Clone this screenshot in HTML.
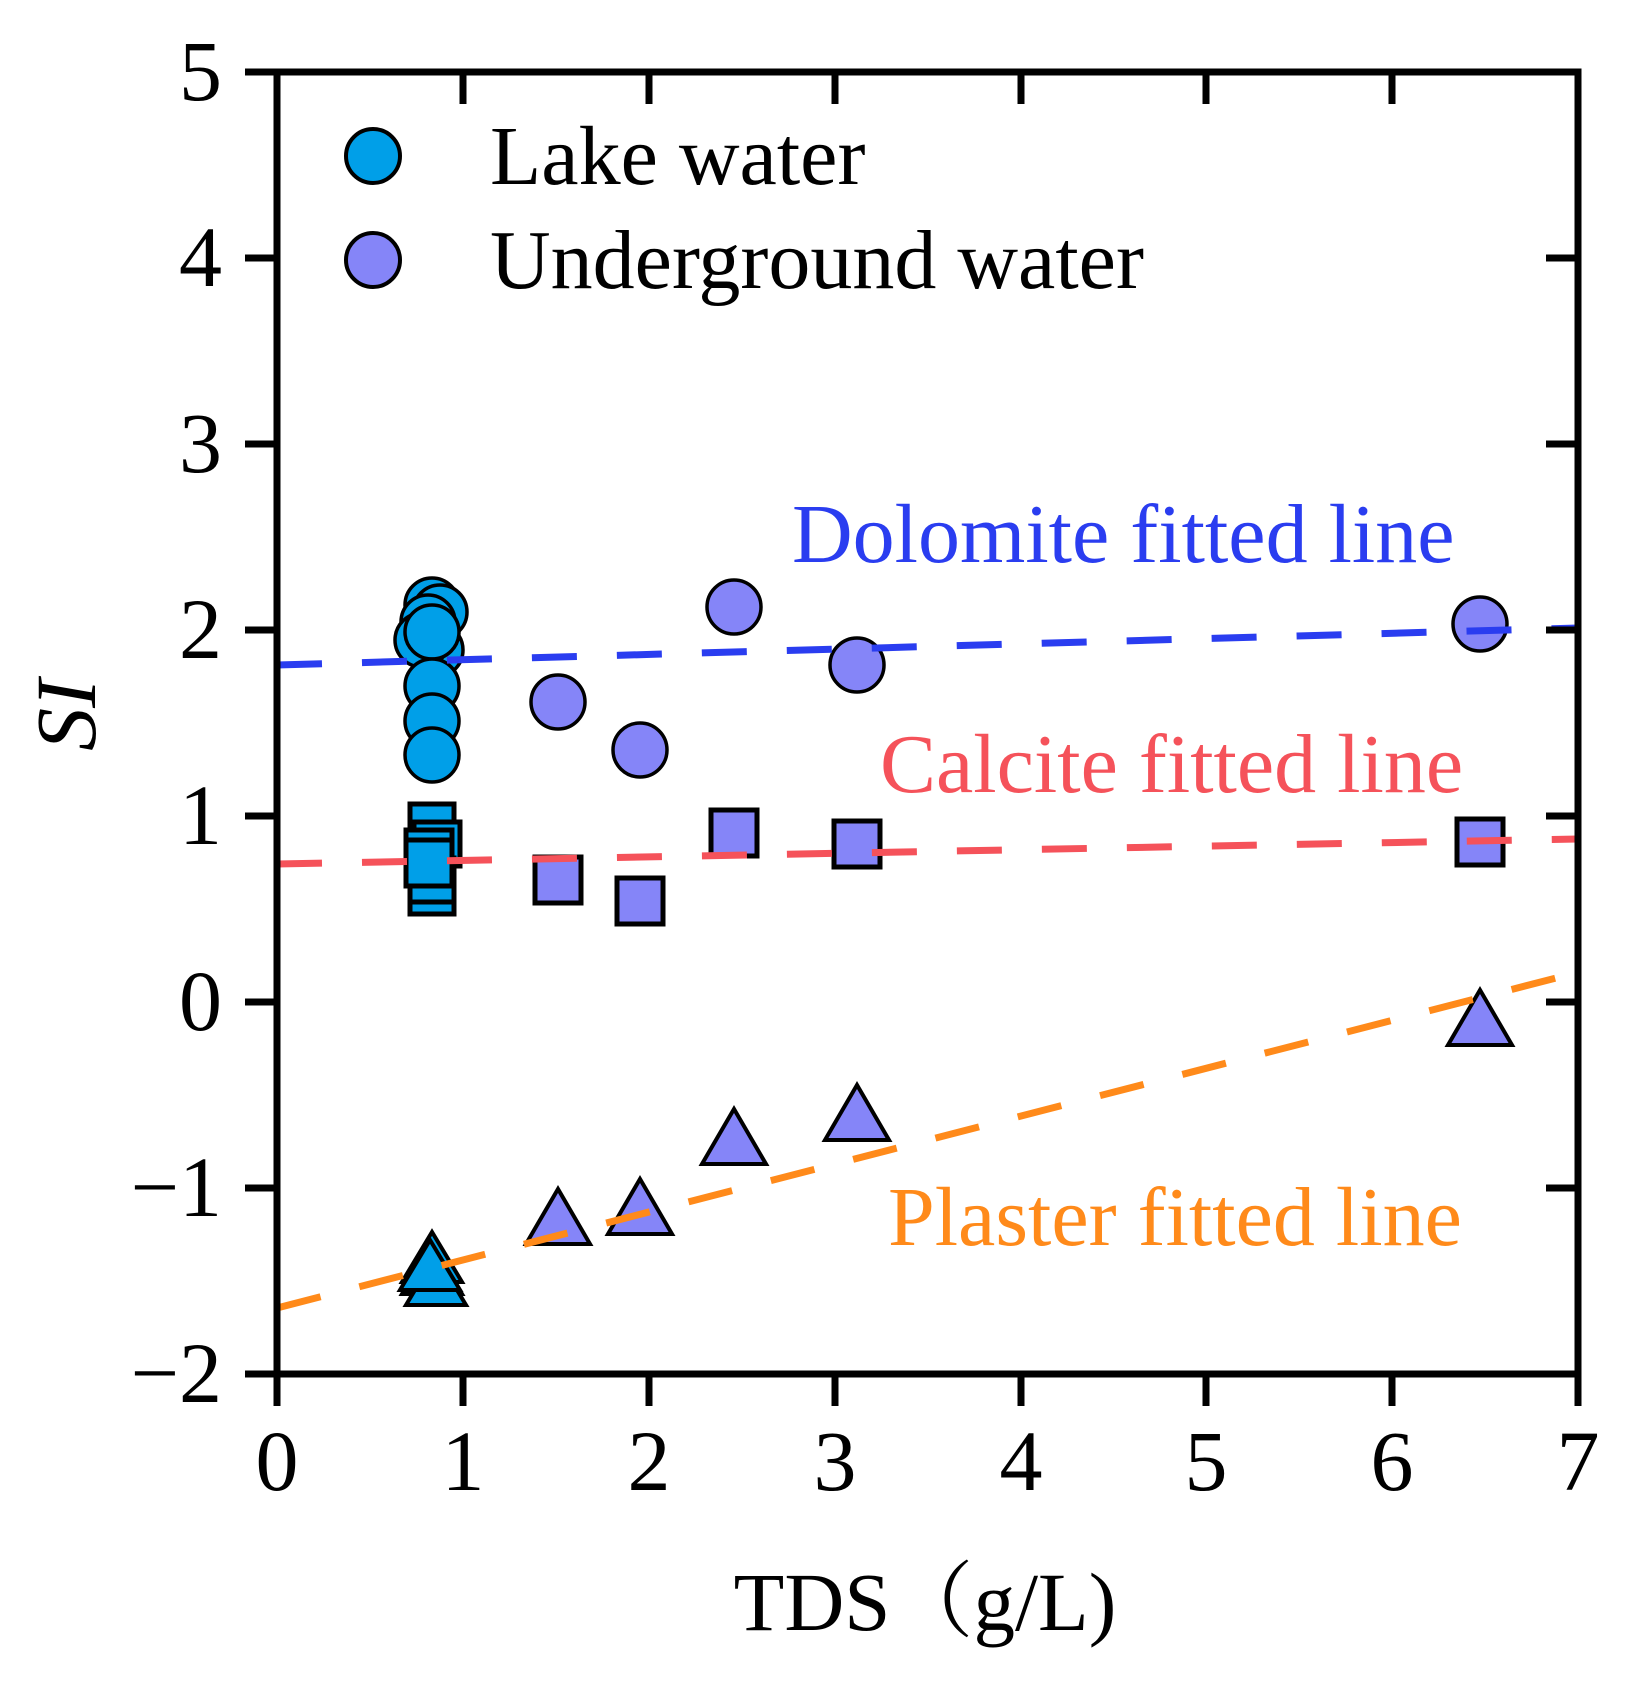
<!DOCTYPE html>
<html><head><style>body{margin:0;background:#fff}svg{display:block}</style></head><body>
<svg width="1637" height="1688" viewBox="0 0 1637 1688" xmlns="http://www.w3.org/2000/svg" font-family="Liberation Serif, serif">
<g stroke="#000" stroke-width="3.5">
<g fill="#009fe8">
<circle cx="432" cy="605" r="27"/><circle cx="440" cy="612" r="27"/><circle cx="428" cy="622" r="27"/>
<circle cx="436" cy="650" r="27"/><circle cx="422" cy="640" r="27"/><circle cx="432" cy="632" r="27"/>
<circle cx="432" cy="686" r="27"/><circle cx="432" cy="721" r="27"/><circle cx="432" cy="755" r="27"/>
</g>
<g fill="#8585f8">
<circle cx="558" cy="702" r="27"/><circle cx="640" cy="750" r="27"/><circle cx="734" cy="607" r="27"/><circle cx="857" cy="665" r="27"/><circle cx="1480" cy="624" r="27"/>
</g>
<g fill="#009fe8" stroke-width="5">
<rect x="410" y="804" width="44" height="44"/><rect x="414" y="822" width="46" height="44"/><rect x="406" y="830" width="46" height="44"/>
<rect x="410" y="870" width="44" height="44"/><rect x="410" y="858" width="44" height="44"/><rect x="406" y="840" width="46" height="46"/>
</g>
<g fill="#8585f8" stroke-width="5">
<rect x="535" y="857" width="46" height="46"/><rect x="617" y="878" width="46" height="46"/><rect x="711" y="810" width="46" height="46"/><rect x="834" y="821" width="46" height="46"/><rect x="1457" y="819" width="46" height="46"/>
</g>
<g fill="#009fe8" stroke-width="4">
<polygon points="432,1232 402,1282 462,1282"/><polygon points="432,1244 402,1294 462,1294"/><polygon points="436,1255 406,1305 466,1305"/><polygon points="430,1240 400,1290 460,1290"/>
</g>
<g fill="#8585f8" stroke-width="4">
<polygon points="558,1189 526,1244 590,1244"/><polygon points="640,1179 608,1234 672,1234"/><polygon points="734,1109 702,1164 766,1164"/><polygon points="857,1085 825,1140 889,1140"/><polygon points="1480,990 1448,1045 1512,1045"/>
</g>
</g>
<g stroke-width="7" stroke-dasharray="45,40" fill="none">
<line x1="277" y1="665" x2="1578" y2="628" stroke="#2a3df0"/>
<line x1="277" y1="864" x2="1578" y2="839" stroke="#f5525a"/>
<line x1="277" y1="1308" x2="1560" y2="977" stroke="#ff8a1a"/>
</g>
<rect x="277" y="72" width="1301" height="1302" fill="none" stroke="#000" stroke-width="7"/>
<g stroke="#000" stroke-width="7">
<line x1="245" y1="72" x2="277" y2="72"/><line x1="245" y1="258" x2="277" y2="258"/><line x1="245" y1="444" x2="277" y2="444"/><line x1="245" y1="630" x2="277" y2="630"/><line x1="245" y1="816" x2="277" y2="816"/><line x1="245" y1="1002" x2="277" y2="1002"/><line x1="245" y1="1188" x2="277" y2="1188"/><line x1="245" y1="1374" x2="277" y2="1374"/>
<line x1="1546" y1="258" x2="1578" y2="258"/><line x1="1546" y1="444" x2="1578" y2="444"/><line x1="1546" y1="630" x2="1578" y2="630"/><line x1="1546" y1="816" x2="1578" y2="816"/><line x1="1546" y1="1002" x2="1578" y2="1002"/><line x1="1546" y1="1188" x2="1578" y2="1188"/>
<line x1="277" y1="1374" x2="277" y2="1406"/><line x1="463" y1="1374" x2="463" y2="1406"/><line x1="649" y1="1374" x2="649" y2="1406"/><line x1="835" y1="1374" x2="835" y2="1406"/><line x1="1021" y1="1374" x2="1021" y2="1406"/><line x1="1206" y1="1374" x2="1206" y2="1406"/><line x1="1392" y1="1374" x2="1392" y2="1406"/><line x1="1578" y1="1374" x2="1578" y2="1406"/>
<line x1="463" y1="72" x2="463" y2="104"/><line x1="649" y1="72" x2="649" y2="104"/><line x1="835" y1="72" x2="835" y2="104"/><line x1="1021" y1="72" x2="1021" y2="104"/><line x1="1206" y1="72" x2="1206" y2="104"/><line x1="1392" y1="72" x2="1392" y2="104"/>
</g>
<g font-size="86" text-anchor="end" fill="#000">
<text x="222" y="100">5</text><text x="222" y="286">4</text><text x="222" y="472">3</text><text x="222" y="658">2</text><text x="222" y="844">1</text><text x="222" y="1030">0</text><text x="222" y="1216">−1</text><text x="222" y="1402">−2</text>
</g>
<g font-size="86" text-anchor="middle" fill="#000">
<text x="277" y="1490">0</text><text x="463" y="1490">1</text><text x="649" y="1490">2</text><text x="835" y="1490">3</text><text x="1021" y="1490">4</text><text x="1206" y="1490">5</text><text x="1392" y="1490">6</text><text x="1578" y="1490">7</text>
</g>
<text x="925" y="1630" font-size="83" text-anchor="middle" font-family="Liberation Serif, 'Noto Serif CJK SC', serif">TDS（g/L)</text>
<text transform="translate(95,715) rotate(-90)" font-size="86" font-style="italic" text-anchor="middle">SI</text>
<circle cx="373" cy="156" r="27" fill="#009fe8" stroke="#000" stroke-width="4"/>
<circle cx="373" cy="260" r="27" fill="#8585f8" stroke="#000" stroke-width="4"/>
<text x="490" y="184" font-size="84">Lake water</text>
<text x="490" y="288" font-size="84">Underground water</text>
<text x="792" y="562" font-size="84" fill="#2a3df0">Dolomite fitted line</text>
<text x="880" y="792" font-size="84" fill="#f5525a">Calcite fitted line</text>
<text x="888" y="1245" font-size="84" fill="#ff8a1a">Plaster fitted line</text>
</svg>
</body></html>
